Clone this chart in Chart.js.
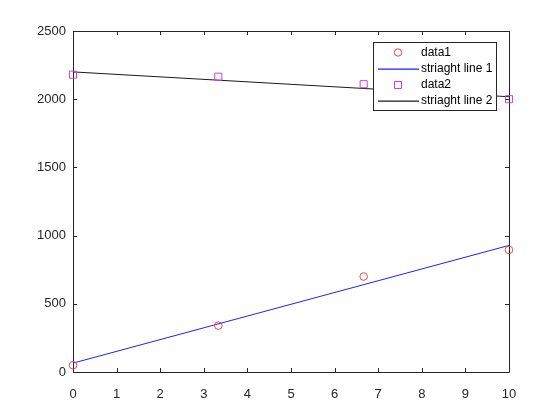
<!DOCTYPE html>
<html>
<head>
<meta charset="utf-8">
<script src="https://cdn.jsdelivr.net/npm/chart.js@4/dist/chart.umd.min.js"></script>
<style>
  html, body { margin: 0; padding: 0; background: #ffffff; }
  #wrap { width: 560px; height: 420px; }
</style>
</head>
<body>
<div id="wrap"><canvas id="c" width="560" height="420"></canvas></div>
<script>
// ---- data ----
const xData = [0, 3.333, 6.667, 10];
const data1 = [50, 340, 700, 895];
const data2 = [2180, 2165, 2110, 2000];
const lineX = [0, 10];
const line1 = [65, 928];
const line2 = [2200, 2018];
const xTicks = [0, 1, 2, 3, 4, 5, 6, 7, 8, 9, 10];
const yTicks = [0, 500, 1000, 1500, 2000, 2500];
const labels = ['data1', 'striaght line 1', 'data2', 'striaght line 2'];

const pts = (xs, ys) => xs.map((x, i) => ({ x: x, y: ys[i] }));

const AX = '#262626';
const FONT = "'Liberation Sans', Arial, sans-serif";
const COL = { circle: '#e8474a', blue: '#1f1fff', square: '#d83cd8', black: '#1a1a1a' };

const boxPlugin = {
  id: 'matlabBox',
  beforeDatasetsDraw(chart) {
    const { ctx, chartArea: a, scales } = chart;
    ctx.save();
    ctx.strokeStyle = AX;
    ctx.lineWidth = 1;
    ctx.beginPath();
    ctx.rect(Math.round(a.left) + 0.5, Math.round(a.top) + 0.5,
             Math.round(a.right - a.left), Math.round(a.bottom - a.top));
    ctx.stroke();
    const tl = 4;
    ctx.beginPath();
    xTicks.forEach(v => {
      const px = Math.round(scales.x.getPixelForValue(v)) + 0.5;
      ctx.moveTo(px, a.bottom); ctx.lineTo(px, a.bottom - tl);
      ctx.moveTo(px, a.top); ctx.lineTo(px, a.top + tl);
    });
    yTicks.forEach(v => {
      const py = Math.round(scales.y.getPixelForValue(v)) + 0.5;
      ctx.moveTo(a.left, py); ctx.lineTo(a.left + tl, py);
      ctx.moveTo(a.right, py); ctx.lineTo(a.right - tl, py);
    });
    ctx.stroke();
    ctx.restore();
  }
};

const legendPlugin = {
  id: 'insideLegend',
  afterDraw(chart) {
    const { ctx } = chart;
    const ds = chart.data.datasets;
    const x0 = 373.5, y0 = 42.5, w = 123, h = 68;
    ctx.save();
    ctx.fillStyle = '#ffffff';
    ctx.fillRect(x0, y0, w, h);
    ctx.strokeStyle = AX;
    ctx.lineWidth = 1;
    ctx.strokeRect(x0, y0, w, h);
    const rowY = [52.5, 69, 85, 101];
    const sample = [
      { kind: 'circle', color: COL.circle },
      { kind: 'line', color: COL.blue },
      { kind: 'rect', color: COL.square },
      { kind: 'line', color: COL.black }
    ];
    ctx.font = '12px ' + FONT;
    ctx.textBaseline = 'middle';
    ds.forEach((d, i) => {
      const y = rowY[i];
      const s = sample[i];
      ctx.strokeStyle = s.color;
      ctx.lineWidth = 1.2;
      ctx.beginPath();
      if (s.kind === 'circle') {
        ctx.lineWidth = 1;
        ctx.arc(398, y, 3.7, 0, Math.PI * 2);
      } else if (s.kind === 'rect') {
        ctx.lineWidth = 1;
        ctx.rect(394.5, y - 3.5, 7, 7);
      } else {
        ctx.moveTo(378, Math.round(y) + 0.2);
        ctx.lineTo(419, Math.round(y) + 0.2);
      }
      ctx.stroke();
      ctx.fillStyle = '#000000';
      ctx.fillText(d.label, 421, y);
    });
    ctx.restore();
  }
};

new Chart(document.getElementById('c'), {
  type: 'scatter',
  data: {
    datasets: [
      { label: labels[0], data: pts(xData, data1), showLine: false,
        pointStyle: 'circle', pointRadius: 3.8, pointBorderWidth: 1,
        pointBackgroundColor: 'rgba(0,0,0,0)', pointBorderColor: COL.circle, clip: false },
      { label: labels[1], data: pts(lineX, line1), showLine: true,
        borderColor: COL.blue, borderWidth: 1, pointRadius: 0, clip: false },
      { label: labels[2], data: pts(xData, data2), showLine: false,
        pointStyle: 'rect', pointRadius: 5, pointBorderWidth: 1,
        pointBackgroundColor: 'rgba(0,0,0,0)', pointBorderColor: COL.square, clip: false },
      { label: labels[3], data: pts(lineX, line2), showLine: true,
        borderColor: COL.black, borderWidth: 1, pointRadius: 0, clip: false }
    ]
  },
  options: {
    responsive: false,
    animation: false,
    devicePixelRatio: 1,
    layout: { padding: { left: 0, right: 51, top: 31, bottom: 0 } },
    plugins: { legend: { display: false }, tooltip: { enabled: false } },
    scales: {
      x: {
        type: 'linear', min: 0, max: 10,
        afterFit: s => { s.height = 48; },
        afterBuildTicks: s => { s.ticks = xTicks.map(v => ({ value: v })); },
        grid: { display: false, drawTicks: false },
        border: { display: false },
        ticks: { color: AX, padding: 15, font: { family: FONT, size: 13 }, maxRotation: 0,
                 callback: v => String(v) }
      },
      y: {
        type: 'linear', min: 0, max: 2500,
        afterFit: s => { s.width = 73; },
        afterBuildTicks: s => { s.ticks = yTicks.map(v => ({ value: v })); },
        grid: { display: false, drawTicks: false },
        border: { display: false },
        ticks: { color: AX, padding: 7, font: { family: FONT, size: 13 },
                 callback: v => String(v) }
      }
    }
  },
  plugins: [boxPlugin, legendPlugin]
});
</script>
</body>
</html>
